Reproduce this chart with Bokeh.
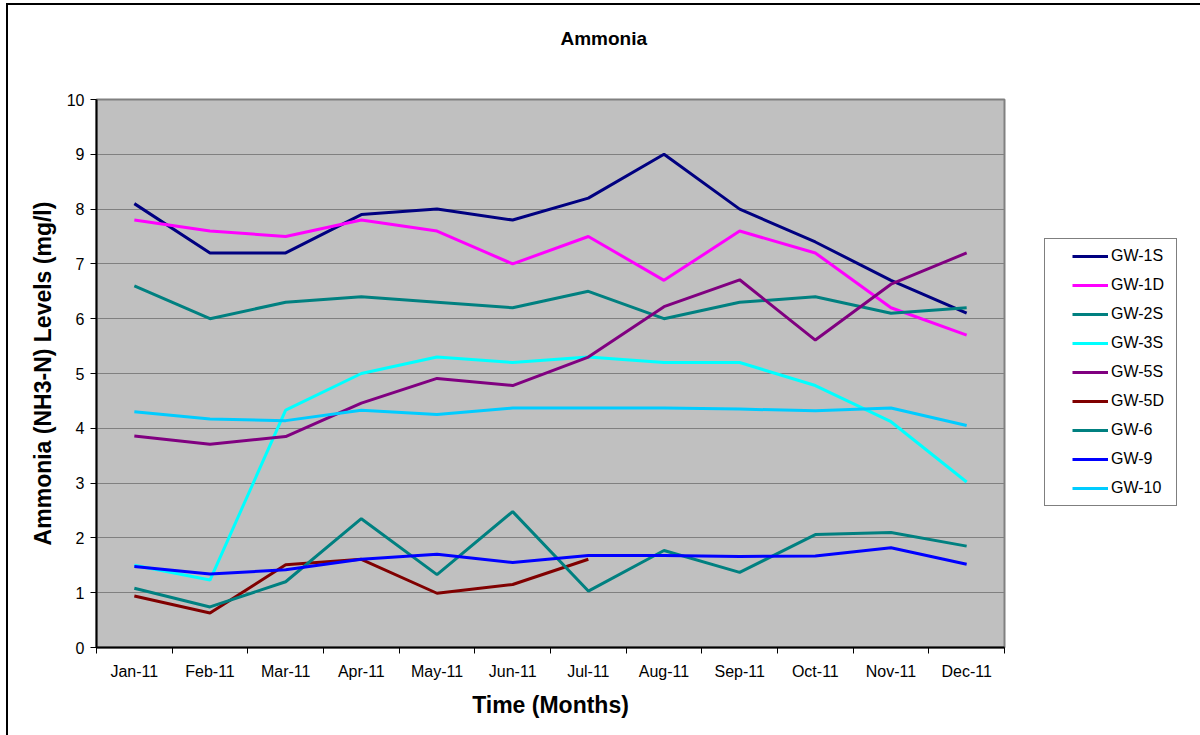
from bokeh.plotting import figure
from bokeh.models import Range1d, FixedTicker, Legend, LegendItem, Title
from bokeh.embed import file_html
from bokeh.resources import INLINE

# Monthly ammonia (NH3-N) readings per groundwater well, mg/l
months = ["Jan-11", "Feb-11", "Mar-11", "Apr-11", "May-11", "Jun-11",
          "Jul-11", "Aug-11", "Sep-11", "Oct-11", "Nov-11", "Dec-11"]
gw_1s = [8.1, 7.2, 7.2, 7.9, 8.0, 7.8, 8.2, 9.0, 8.0, 7.4, 6.7, 6.1]
gw_1d = [7.8, 7.6, 7.5, 7.8, 7.6, 7.0, 7.5, 6.7, 7.6, 7.2, 6.2, 5.7]
gw_2s = [6.6, 6.0, 6.3, 6.4, 6.3, 6.2, 6.5, 6.0, 6.3, 6.4, 6.1, 6.2]
gw_3s = [1.5, 1.23, 4.33, 5.0, 5.3, 5.2, 5.3, 5.2, 5.2, 4.78, 4.12, 3.02]
gw_5s = [3.86, 3.71, 3.85, 4.46, 4.91, 4.78, 5.3, 6.22, 6.71, 5.61, 6.63, 7.2]
gw_5d = [0.94, 0.63, 1.51, 1.61, 0.99, 1.15, 1.61]
gw_6 = [1.08, 0.74, 1.2, 2.35, 1.33, 2.48, 1.03, 1.77, 1.37, 2.06, 2.10, 1.85]
gw_9 = [1.48, 1.34, 1.42, 1.61, 1.70, 1.55, 1.68, 1.68, 1.66, 1.67, 1.82, 1.52]
gw_10 = [4.3, 4.17, 4.14, 4.33, 4.25, 4.37, 4.37, 4.37, 4.35, 4.32, 4.37, 4.05]

series = [
    ("GW-1S", gw_1s, "#000080"),
    ("GW-1D", gw_1d, "#FF00FF"),
    ("GW-2S", gw_2s, "#008080"),
    ("GW-3S", gw_3s, "#00FFFF"),
    ("GW-5S", gw_5s, "#800080"),
    ("GW-5D", gw_5d, "#800000"),
    ("GW-6", gw_6, "#008080"),
    ("GW-9", gw_9, "#0000FF"),
    ("GW-10", gw_10, "#00CCFF"),
]

FONT = "Liberation Sans"

p = figure(frame_width=908, frame_height=548,
           output_backend="svg", toolbar_location=None,
           x_range=Range1d(0.5, 12.5), y_range=Range1d(0, 10),
           min_border_left=88, min_border_right=196,
           min_border_top=94, min_border_bottom=88,
           title="Ammonia")

# chart border along the top and left of the page
p.styles = {"margin-left": "6px", "margin-top": "3px",
            "border-left": "2px solid black", "border-top": "2px solid black"}

p.background_fill_color = "#C0C0C0"
p.border_fill_color = "white"
p.outline_line_color = "#808080"
p.outline_line_width = 2

# empty spacer panel between the title and the plot area
p.add_layout(Title(text=" ", text_font_size="1px", standoff=43), "above")

p.title.align = "left"
p.title.offset = 464
p.title.standoff = 10
p.title.text_font = FONT
p.title.text_font_size = "19px"
p.title.text_font_style = "bold"
p.title.text_color = "black"

# x axis: labels at month centres, tick marks between months
x = list(range(1, 13))
p.xaxis.ticker = FixedTicker(ticks=x, minor_ticks=[i + 0.5 for i in range(13)])
p.xaxis.major_label_overrides = {i + 1: m for i, m in enumerate(months)}
p.xaxis.major_tick_line_color = None
p.xaxis.major_tick_out = 0
p.xaxis.major_tick_in = 0
p.xaxis.minor_tick_line_color = "black"
p.xaxis.minor_tick_out = 6
p.xaxis.minor_tick_in = 0
p.xaxis.major_label_standoff = 9
p.xaxis.axis_label = "Time (Months)"
p.xaxis.axis_label_standoff = 9

p.yaxis.ticker = FixedTicker(ticks=list(range(0, 11)))
p.yaxis.minor_tick_line_color = None
p.yaxis.major_tick_line_color = "black"
p.yaxis.major_tick_out = 6
p.yaxis.major_tick_in = 0
p.yaxis.major_label_standoff = 6
p.yaxis.axis_label = "Ammonia (NH3-N) Levels (mg/l)"
p.yaxis.axis_label_standoff = 8

for ax in (p.xaxis[0], p.yaxis[0]):
    ax.axis_line_color = "black"
    ax.axis_line_width = 2
    ax.major_label_text_font = FONT
    ax.major_label_text_font_size = "16px"
    ax.major_label_text_color = "black"
    ax.axis_label_text_font = FONT
    ax.axis_label_text_font_size = "23px"
    ax.axis_label_text_font_style = "bold"
    ax.axis_label_text_color = "black"

p.xgrid.grid_line_color = None
p.ygrid.grid_line_color = "#808080"
p.ygrid.grid_line_width = 1

items = []
for name, vals, color in series:
    r = p.line(x[:len(vals)], vals, line_color=color, line_width=3)
    items.append(LegendItem(label=name, renderers=[r]))

# blank title on the left widens the gap before the legend swatches
legend = Legend(items=items, location=(40, 141), glyph_width=36, glyph_height=20,
                label_height=20, label_width=58, spacing=9, padding=7, margin=0,
                label_standoff=3, title=" ", title_location="left",
                title_text_font_size="1px", title_standoff=19,
                label_text_font=FONT, label_text_font_size="16px",
                label_text_color="black", border_line_color="black",
                border_line_width=1, background_fill_color="white",
                background_fill_alpha=1)
p.add_layout(legend, "right")

open("out.html", "w").write(file_html(p, INLINE))
